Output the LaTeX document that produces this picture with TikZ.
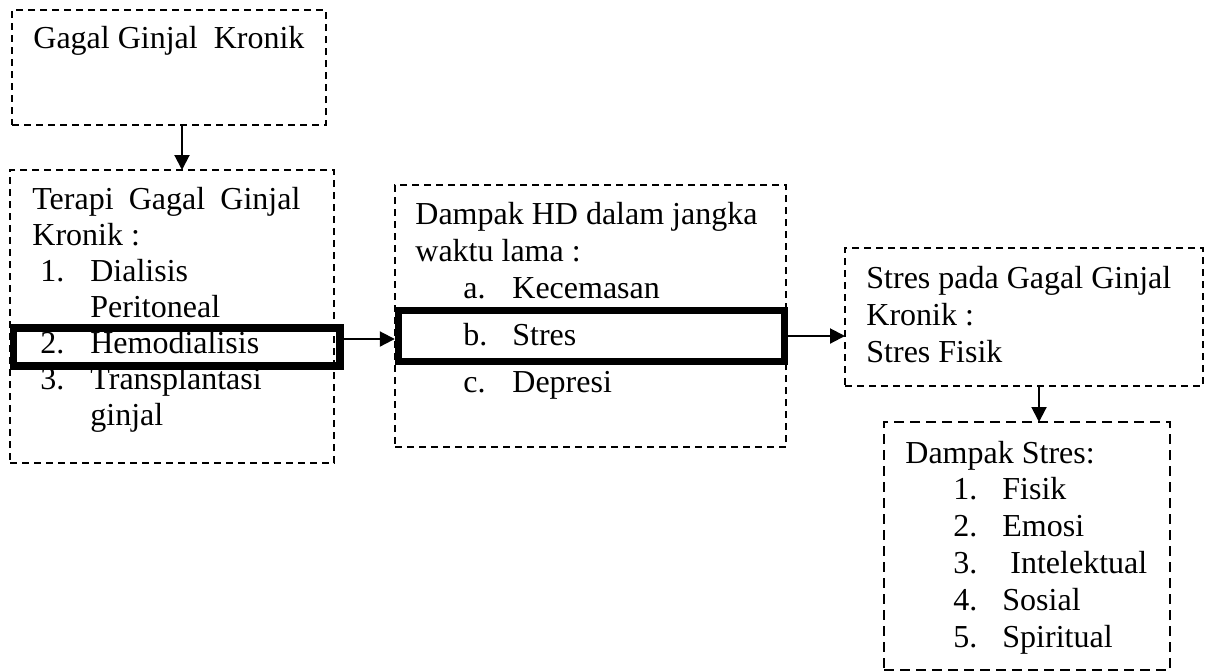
\documentclass[tikz,border=0pt]{standalone}
\usepackage{fontspec}
\setmainfont{Liberation Serif}
\usetikzlibrary{arrows.meta}

\tikzset{
  box/.style={draw=black, line width=0.8pt, dash pattern=on 3.5pt off 2.5pt,
    anchor=north west, inner sep=0pt, outer sep=0pt},
  longbox/.style={box, dash pattern=on 5pt off 3pt},
  hl/.style={draw=black, line width=3.7pt, inner sep=0pt},
  % base of a multi-line node = baseline of its last line
  txt/.style={anchor=base west, align=left, inner sep=0pt,
    font=\fontsize{16pt}{18.4pt}\selectfont},
  arr/.style={-{Triangle[length=7.5pt,width=7.5pt]}, line width=1pt},
}
\newcommand{\itm}[2]{\hspace*{24pt}\makebox[24.5pt][l]{#1}#2}

\begin{document}
\begin{tikzpicture}[x=0.5pt, y=-0.5pt]

  \useasboundingbox (0,0) rectangle (1213,671);

  % dashed boxes
  \node[box, minimum width=157pt, minimum height=57.5pt] (gagal) at (12,10) {};
  \node[box, minimum width=162pt, minimum height=146.5pt] (terapi) at (10,170) {};
  \node[box, minimum width=195.5pt, minimum height=131pt] (dampakhd) at (395,185) {};
  \node[box, minimum width=179pt, minimum height=69pt] (strespada) at (845,248) {};
  \node[longbox, minimum width=143pt, minimum height=124pt] (dampakstres) at (884,422) {};

  % texts
  \node[txt] (tgagal) at (33,48) {Gagal Ginjal\ \ Kronik};
  \node[txt, font=\fontsize{16pt}{18pt}\selectfont] (tterapi) at (32,425)
    {\makebox[134pt][s]{Terapi Gagal Ginjal}\\
    Kronik :\\
    \hspace*{4pt}\makebox[25pt][l]{1.}Dialisis\\
    \hspace*{29pt}Peritoneal\\
    \hspace*{4pt}\makebox[25pt][l]{2.}Hemodialisis\\
    \hspace*{4pt}\makebox[25pt][l]{3.}Transplantasi\\
    \hspace*{29pt}ginjal};
  \node[txt] (tdampakhd) at (415,392) {Dampak HD dalam jangka\\
    waktu lama :\\
    \itm{a.}{Kecemasan}\\[5pt]
    \itm{b.}{Stres}\\[5pt]
    \itm{c.}{Depresi}};
  \node[txt] (tstrespada) at (866,362) {Stres pada Gagal Ginjal\\
    Kronik :\\
    Stres Fisik};
  \node[txt] (tdampakstres) at (905,647) {Dampak Stres:\\
    \itm{1.}{Fisik}\\
    \itm{2.}{Emosi}\\
    \itm{3.}{\ Intelektual}\\
    \itm{4.}{Sosial}\\
    \itm{5.}{Spiritual}};

  % thick frames
  \node[hl, minimum width=163.25pt, minimum height=19pt] (hemo) at (176.75,347) {};
  \node[hl, minimum width=193pt, minimum height=25.5pt] (stres) at (591.5,336) {};

  \draw[arr] ([xshift=6.5pt]gagal.south) -- ([xshift=6.5pt]gagal.south |- terapi.north);
  \draw[arr] ([yshift=4pt]hemo.east) -- ([yshift=4pt]hemo.east -| stres.west);
  \draw[arr] (stres.east) -- (stres.east -| strespada.west);
  \draw[arr] ([xshift=7.5pt]strespada.south) -- ([xshift=7.5pt]strespada.south |- dampakstres.north);

\end{tikzpicture}
\end{document}
